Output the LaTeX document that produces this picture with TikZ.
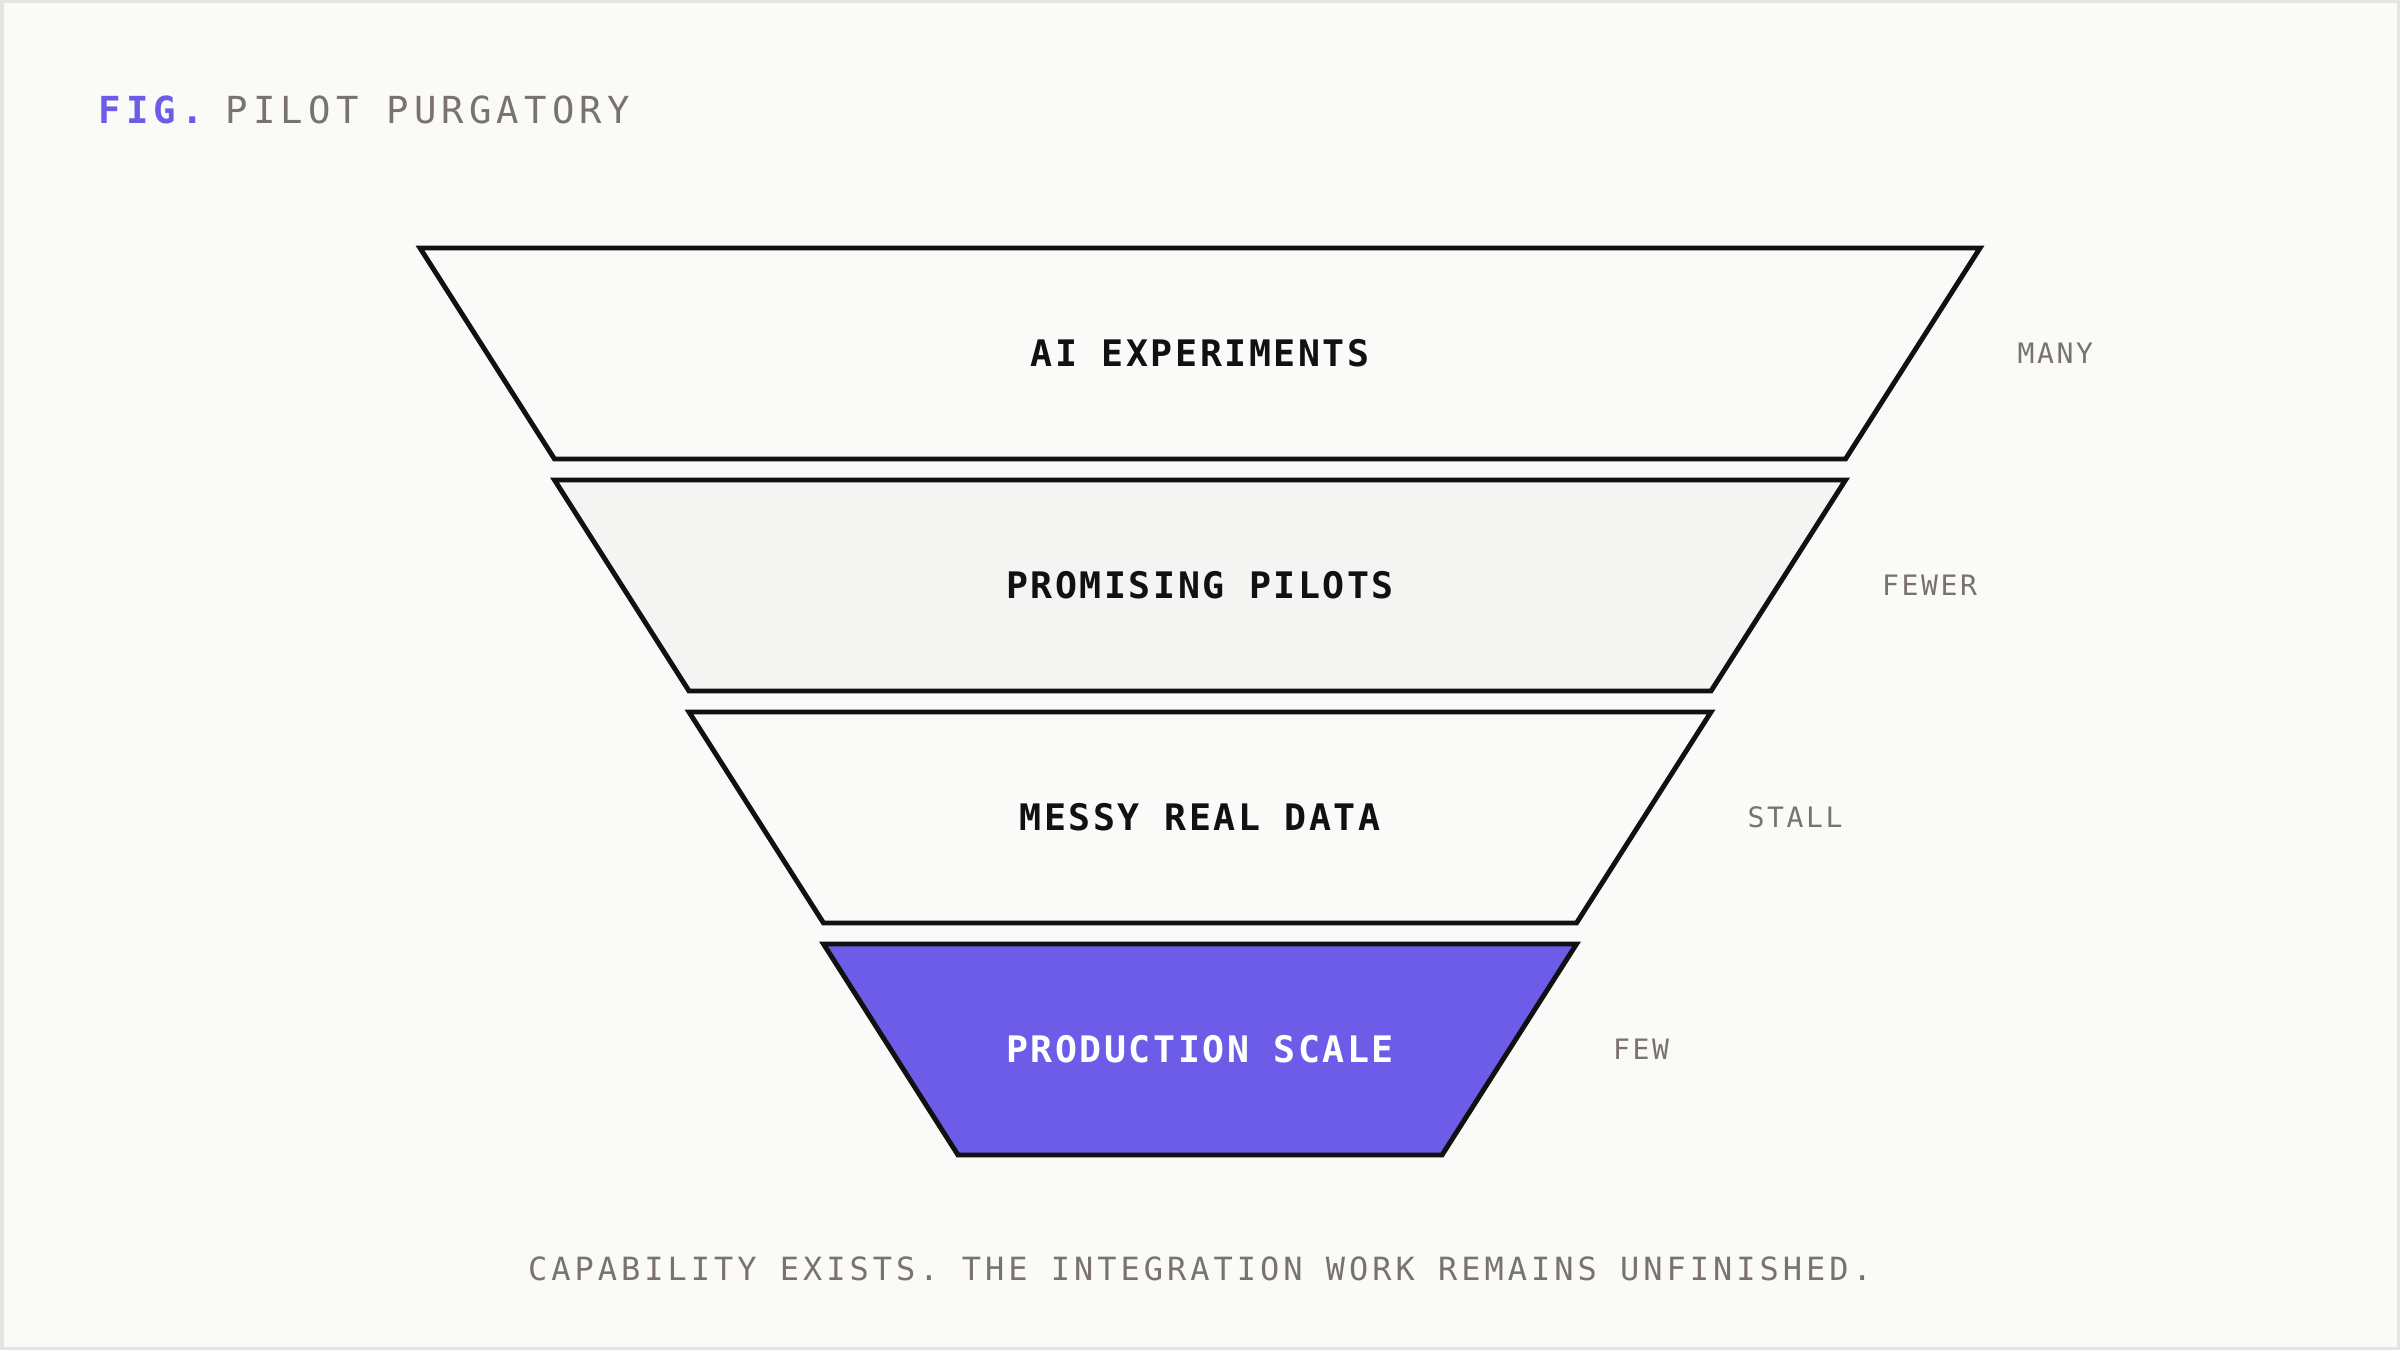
\documentclass[tikz,border=0pt]{standalone}
\usepackage{fontspec}
\setmonofont{DejaVu Sans Mono}
\newfontfamily\titlefont[LetterSpace=14]{DejaVu Sans Mono}
\newfontfamily\stagefont[LetterSpace=7]{DejaVu Sans Mono}
\newfontfamily\sidefont[LetterSpace=9]{DejaVu Sans Mono}
\newfontfamily\notefont[LetterSpace=12.5]{DejaVu Sans Mono}
\definecolor{PaperBg}{HTML}{FAFAF8}
\definecolor{FrameGray}{HTML}{E6E4E1}
\definecolor{ShadeFill}{HTML}{F4F4F2}
\definecolor{FunnelPurple}{HTML}{6C5CE7}
\definecolor{InkBlack}{HTML}{111111}
\definecolor{MutedGray}{HTML}{7A736D}
\usetikzlibrary{positioning}

\begin{document}
\begin{tikzpicture}[
  stage/.style={draw=InkBlack,line width=1.4pt,line join=miter},
  stagelabel/.style={font=\stagefont\bfseries\fontsize{10.4}{12}\selectfont,text=InkBlack},
  sidelabel/.style={anchor=west,inner sep=0pt,font=\sidefont\fontsize{8}{10}\selectfont,text=MutedGray}
]
\useasboundingbox (0,0) rectangle (24,13.5);
\draw[FrameGray,fill=PaperBg,line width=0.035cm] (0.0175,0.0175) rectangle (23.9825,13.4825);
% Title
\node[anchor=base west,inner sep=0pt,font=\titlefont\fontsize{10.6}{12}\selectfont,text=MutedGray]
  (title) at (0.98,12.26) {{\color{FunnelPurple}\bfseries FIG.}\hspace{-0.06cm} PILOT PURGATORY};
% Funnel stages
\draw[stage,fill=PaperBg] (4.20,11.02) -- (19.80,11.02) -- (18.455,8.91) -- (5.545,8.91) -- cycle;
\node[stagelabel] (experiments) at (12,9.965) {AI EXPERIMENTS};
\draw[stage,fill=ShadeFill] (5.545,8.70) -- (18.455,8.70) -- (17.11,6.59) -- (6.89,6.59) -- cycle;
\node[stagelabel] (pilots) at (12,7.645) {PROMISING PILOTS};
\draw[stage,fill=PaperBg] (6.89,6.38) -- (17.11,6.38) -- (15.765,4.27) -- (8.235,4.27) -- cycle;
\node[stagelabel] (data) at (12,5.325) {MESSY REAL DATA};
\draw[stage,fill=FunnelPurple] (8.235,4.06) -- (15.765,4.06) -- (14.42,1.95) -- (9.58,1.95) -- cycle;
\node[stagelabel,text=white] (production) at (12,3.005) {PRODUCTION SCALE};
% Side counts
\node[sidelabel] (many) at (20.17,9.965) {MANY};
\node[sidelabel] (fewer) at (18.815,7.645) {FEWER};
\node[sidelabel] (stall) at (17.47,5.325) {STALL};
\node[sidelabel] (few) at (16.125,3.005) {FEW};
% Caption
\node[font=\notefont\fontsize{9.1}{11}\selectfont,text=MutedGray] (caption) at (12,0.81)
  {CAPABILITY EXISTS. THE INTEGRATION WORK REMAINS UNFINISHED.};
\end{tikzpicture}
\end{document}
